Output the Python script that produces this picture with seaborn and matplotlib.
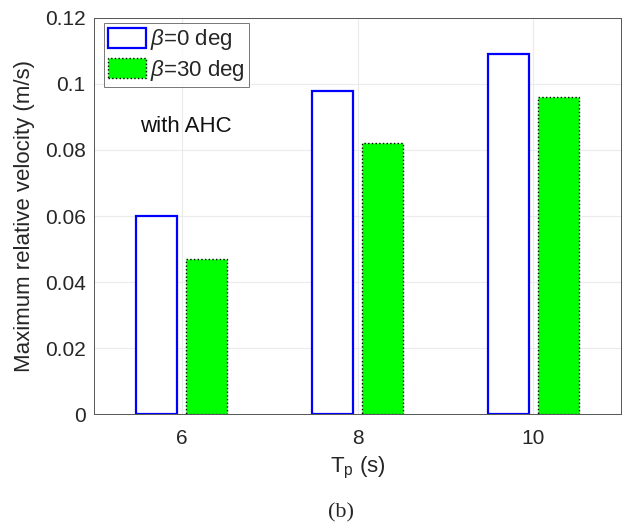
import matplotlib
matplotlib.use('Agg')
import matplotlib.pyplot as plt
import seaborn as sns
import pandas as pd

# 数据
periods = [6, 8, 10]
vel_beta0 = [0.060, 0.098, 0.109]
vel_beta30 = [0.047, 0.082, 0.096]
labels = [r'$\beta$=0 deg', r'$\beta$=30 deg']

df = pd.DataFrame({
    'Tp': periods * 2,
    'vel': vel_beta0 + vel_beta30,
    'case': [labels[0]] * 3 + [labels[1]] * 3,
})

sns.set_style('white')
plt.rcParams['font.family'] = ['Liberation Sans', 'DejaVu Sans']
plt.rcParams['mathtext.fontset'] = 'custom'
plt.rcParams['mathtext.it'] = 'Liberation Sans:italic'
plt.rcParams['mathtext.rm'] = 'Liberation Sans'

fig = plt.figure(figsize=(6.22, 5.25), dpi=100)
ax = fig.add_axes([94 / 622, 1 - 414 / 525, 527 / 622, 396 / 525])

sns.barplot(data=df, x='Tp', y='vel', hue='case', native_scale=True,
            width=0.568, gap=0.18, palette=['white', '#00ff00'], saturation=1,
            ax=ax, errorbar=None, legend=True)

edges = ['#0000ff', 'black']
styles = ['-', ':']
widths = [1.6, 1.0]

# 柱子样式
for bar_c, edge, ls, lw in zip(ax.containers, edges, styles, widths):
    for p in bar_c:
        p.set_edgecolor(edge)
        p.set_linestyle(ls)
        p.set_linewidth(lw)
        p.set_zorder(3)

ax.set_xlim(5, 11)
ax.set_ylim(0, 0.12)
ax.set_xticks(periods)
ax.set_xticklabels(['6', '8', '10'])
ax.set_yticks([0, 0.02, 0.04, 0.06, 0.08, 0.1, 0.12])
ax.set_yticklabels(['0', '0.02', '0.04', '0.06', '0.08', '0.1', '0.12'])
ax.grid(True, color='#ebebeb', linewidth=0.8, zorder=0)
ax.set_axisbelow(True)
ax.tick_params(direction='in', length=4, width=0.6, labelsize=15,
               colors='#262626', color='#555555')
ax.tick_params(axis='x', pad=11)
ax.tick_params(axis='y', pad=6)
for s in ax.spines.values():
    s.set_color('#555555')
    s.set_linewidth(0.7)
    s.set_visible(True)

ax.set_xlabel(r'T$_\mathrm{p}$ (s)', fontsize=16, color='#262626', labelpad=5)
ax.set_ylabel('Maximum relative velocity (m/s)', fontsize=16,
              color='#262626', labelpad=7)

ax.text(5.52, 0.0855, 'with AHC', fontsize=16, color='#111111')

handles, _ = ax.get_legend_handles_labels()
for h, edge, ls, lw in zip(handles, edges, styles, widths):
    h.set_edgecolor(edge)
    h.set_linestyle(ls)
    h.set_linewidth(lw)
leg = ax.legend(handles, labels, loc='upper left',
                bbox_to_anchor=(10 / 527, 1 - 5 / 396),
                fontsize=16, frameon=True, fancybox=False, edgecolor='#555555',
                handlelength=1.7, handleheight=1.0, handletextpad=0.15,
                borderpad=0.2, labelspacing=0.25, borderaxespad=0.0)
leg.get_frame().set_linewidth(0.7)

fig.text(341 / 622, 1 - 513 / 525, '(b)', ha='center', va='center',
         fontsize=16, family='Liberation Serif')

fig.savefig('out.png', dpi=100)
